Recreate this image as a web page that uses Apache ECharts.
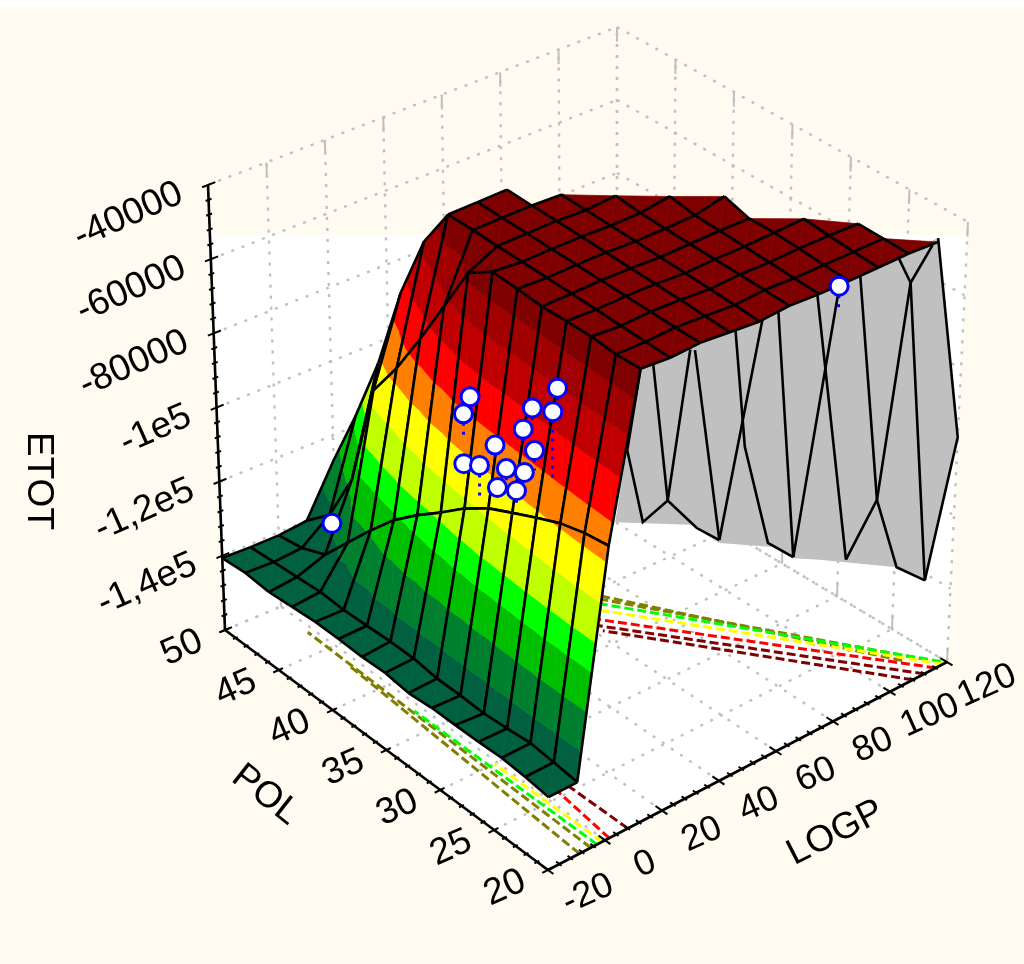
<!DOCTYPE html>
<html><head><meta charset="utf-8">
<style>html,body{margin:0;padding:0;background:#fff}#c{width:1024px;height:964px}</style>
<script src="https://cdn.jsdelivr.net/npm/echarts@6/dist/echarts.min.js"></script>
</head><body><div id="c"></div>
<script>
// ---------- data ----------
const logpGrid=[-20,-10,0,10,20,30,40,50,60,70,80,90,100,110,120];
const polGrid=[20,22.14,24.29,26.43,28.57,30.71,32.86,35,37.14,39.29,41.43,43.57,45.71,47.86,50];
const n=null;
const etotGrid=[
[-140300,-139500,-139000,-139300,-139400,-139400,-140000,-139200,-139500,-139300,-139300,-139900,-140500,-140000,-140600],
[-140300,-139500,-138900,-139500,-140000,-139750,-139750,-138900,-138900,-139200,-139500,-139200,-139750,-140300,-140800],
[-80300,-81400,-83300,-86300,-89500,-92800,-97400,-103000,-108200,-114100,-121400,-129200,-137000,-139700,-140800],
[-36340,-36900,-36600,-36900,-37400,-37100,-36900,-41700,-55200,-68500,-80900,-91400,-120000,-134000,-140000],
[-37300,-37400,-37500,-37500,-37600,-37700,-37800,-37900,-38000,-38200,-49900,-68200,-91700,-110300,-126800],
[-37200,-37400,-37500,-37600,-37700,-37800,-37900,-38000,-38100,-38200,n,n,n,n,n],
[-38300,-38200,-38100,-38100,-38100,-38100,-38100,-38100,-38200,-38200,n,n,n,n,n],
[-39300,-39100,-39000,-38900,-38800,-38700,-38700,-38700,-38700,n,n,n,n,n,n],
[-39000,-38900,-38900,-38900,-38900,-38900,-38800,-38300,n,n,n,n,n,n,n],
[-39800,-39600,-39400,-39200,-39000,-38900,-37900,n,n,n,n,n,n,n,n],
[-40200,-39900,-39500,-39200,-39400,-37400,n,n,n,n,n,n,n,n,n],
[-40500,-40200,-39800,-39200,n,n,n,n,n,n,n,n,n,n,n],
[-40700,-40500,-40400,n,n,n,n,n,n,n,n,n,n,n,n],
[-41500,n,n,n,n,n,n,n,n,n,n,n,n,n,n],
[n,n,n,n,n,n,n,n,n,n,n,n,n,n,n]
];
const bandLevels=[-132500,-122500,-112500,-105000,-95000,-84500,-74500,-63500,-53000,-44000];
const bandColors=['#00603f','#007f2f','#00bf00','#00ff00','#bfff00','#ffff00','#ff8000','#ff0000','#c00000','#a00000','#7f0000'];
const pointLogp=[5,5,5,5,5,5,5,5,5,5,5,5,5,5,80,0];
const pointPol=[25.9,33.6,34.2,28.1,26.3,28.9,31.4,27.9,34.2,32.8,30.4,28.8,31.2,29.5,20.8,45];
const pointEtot=[-52000,-70500,-76350,-62000,-59200,-69400,-78950,-73100,-89850,-87400,-83200,-80900,-90000,-87300,-43100,-127000];
const pointBaseEtot=[-58500,-75100,-83600,-65800,-77300,-74000,-83300,-78500,-89850,-96300,-86400,-83600,-90800,-90800,-50400,-129700];
// underside of the far cliff, seen below the POL=20 edge: [LOGP, ETOT]
const wallOutline=[[10,-36300],[110,-40400],[120,-98700],[110.7,-134000],[100.5,-126300],[73.2,-113300],[64,-109200],[56.7,-103200],[38.1,-94700],[27.9,-85700],[2.1,-74800]];
const wallLines=[
[[10,-36300],[5.9,-56800],[11.6,-78500],[20,-76000],[30.2,-87500],[38.1,-93900]],
[[14.2,-36400],[20,-76000]],
[[26.7,-37700],[20,-76000]],
[[28.3,-38500],[38.1,-93900]],
[[51.1,-38600],[38.1,-93900]],
[[41.8,-37700],[46.1,-71800],[55,-101400],[64,-108900]],
[[56.2,-38100],[64,-108900]],
[[77,-39500],[64,-108900]],
[[69.3,-39000],[82.5,-117000]],
[[83.7,-39200],[92.6,-104800],[100.5,-126300],[110.7,-134000]],
[[96.2,-39500],[101.2,-49100],[110.7,-134000]],
[[108.2,-41600],[101.2,-49100],[92.6,-104800],[82.5,-117000]],
[[110,-40400],[120,-98700],[110.7,-134000]]
];
// contours projected on the floor: colour, then [LOGP, POL] ends
const floorContours=[
['#808000',[-9,20],[-3,43]],['#808000',[-5,20],[-2,47]],['#00ff00',[-2.8,20],[-2.5,37]],['#ffff00',[-1,20],[-1,30]],
['#ff0000',[1.5,20],[5,27]],['#7f0000',[8,20],[8,30]],
['#808000',[117,21],[69,40]],['#808000',[112,22],[72,39.6]],['#00ff00',[119,20.3],[68,39.4]],['#ffff00',[118.6,20],[66,38.8]],
['#ff0000',[116,20],[63,38]],['#7f0000',[112,20],[61,37.5]],['#7f0000',[108,20],[62,36.4]]
];
const logpTicks=[-20,0,20,40,60,80,100,120];
const polTicks=[50,45,40,35,30,25,20];
const etotTicks=[-40000,-60000,-80000,-100000,-120000,-140000,-160000];
const etotLabels=['-40000','-60000','-80000','-1e5','-1,2e5','-1,4e5',''];
// ---------- the box seen in perspective ----------
const boxFloor={B:[548,870],C:[947,662],A:[225,630],D:[617,465]};
const boxTop={B:[551,426],C:[968,222],A:[208,185],D:[617,27]};
function project(L,P,Z){
  const u=(L+20)/140,v=(P-20)/30,w=(Z+160000)/120000;
  const mix=(q,k)=>(1-u)*(1-v)*q.B[k]+u*(1-v)*q.C[k]+(1-u)*v*q.A[k]+u*v*q.D[k];
  return [mix(boxFloor,0)*(1-w)+mix(boxTop,0)*w, mix(boxFloor,1)*(1-w)+mix(boxTop,1)*w];
}
const GRID='#c0c0c0',BLACK='#000',FONT='"Liberation Sans",Arial,sans-serif';
function segs(api,pts,style){
  return {type:'polyline',silent:true,shape:{points:pts.map(p=>api.coord(project(p[0],p[1],p[2])))},style:Object.assign({fill:null,stroke:BLACK,lineWidth:2.6},style)};
}
function clipBand(poly,lo,hi){
  const clip=(pts,keep,lim)=>{const out=[];for(let a=0;a<pts.length;a++){const p=pts[a],q=pts[(a+1)%pts.length];
    const kp=keep(p[2]),kq=keep(q[2]);if(kp)out.push(p);
    if(kp!==kq){const t=(lim-p[2])/(q[2]-p[2]);out.push([p[0]+t*(q[0]-p[0]),p[1]+t*(q[1]-p[1]),lim]);}}return out;};
  let r=poly; if(lo!==-Infinity)r=clip(r,z=>z>=lo,lo); if(r.length&&hi!==Infinity)r=clip(r,z=>z<hi,hi); return r;
}
function vtx(i,j){const z=etotGrid[i][j];return z===null?null:[logpGrid[i],polGrid[j],z];}
function renderCell(params,api){
  const i=api.value(0),j=api.value(1),a=vtx(i,j),b=vtx(i+1,j),c=vtx(i+1,j+1),d=vtx(i,j+1);
  const valid=[a,b,c,d].filter(Boolean);let tris=[];
  if(valid.length===4)tris=[[a,b,c],[a,c,d]];
  else if(valid.length===3&&i>=7)tris=[valid];
  if(!tris.length)return {type:'group',children:[]};
  const ch=[];
  tris.forEach(t=>{for(let k=0;k<bandColors.length;k++){
    const lo=k===0?-Infinity:bandLevels[k-1],hi=k===bandLevels.length?Infinity:bandLevels[k];
    const p=clipBand(t,lo,hi);if(p.length<3)continue;
    ch.push({type:'polygon',silent:true,shape:{points:p.map(q=>api.coord(project(q[0],q[1],q[2])))},style:{fill:bandColors[k],stroke:bandColors[k],lineWidth:.7}});
  }});
  [[a,b],[b,c],[c,d],[d,a]].forEach(e=>{if(e[0]&&e[1])ch.push(segs(api,e,{}));});
  return {type:'group',children:ch};
}
function renderBackdrop(params,api){
  const c=[];
  c.push({type:'polygon',silent:true,shape:{points:[[-20,50,-53500],[120,20,-43500],[120,20,-160000],[-20,20,-160000],[-20,50,-160000]].map(p=>api.coord(project(p[0],p[1],p[2])))},style:{fill:'#fff'}});
  const dot={stroke:GRID,lineWidth:2.4,lineDash:[3,8]},solid={stroke:GRID,lineWidth:2};
  etotTicks.forEach(z=>{c.push(segs(api,[[-20,50,z],[120,50,z]],dot));c.push(segs(api,[[120,50,z],[120,20,z]],dot));});
  logpTicks.forEach(l=>{c.push(segs(api,[[l,50,-160000],[l,50,-40000]],dot));c.push(segs(api,[[l,50,-40000],[l,50,-44000]],solid));c.push(segs(api,[[l,50,-160000],[l,50,-156000]],solid));c.push(segs(api,[[l,20,-160000],[l,50,-160000]],dot));});
  polTicks.forEach(p=>{c.push(segs(api,[[120,p,-160000],[120,p,-40000]],dot));c.push(segs(api,[[120,p,-40000],[120,p,-44000]],solid));c.push(segs(api,[[120,p,-160000],[120,p,-156000]],solid));c.push(segs(api,[[-20,p,-160000],[120,p,-160000]],dot));});
  floorContours.forEach(f=>c.push(segs(api,[[f[1][0],f[1][1],-160000],[f[2][0],f[2][1],-160000]],{stroke:f[0],lineWidth:3,lineDash:[9,4]})));
  return {type:'group',children:c};
}
function renderWall(params,api){
  const c=[{type:'polygon',silent:true,shape:{points:wallOutline.map(p=>api.coord(project(p[0],20,p[1])))},style:{fill:'#c0c0c0'}}];
  wallLines.forEach(l=>c.push(segs(api,l.map(p=>[p[0],20,p[1]]),{})));
  return {type:'group',children:c};
}
function renderDrops(params,api){
  const c=[];
  pointLogp.forEach((l,k)=>c.push(segs(api,[[l,pointPol[k],pointEtot[k]],[l,pointPol[k],pointBaseEtot[k]]],{stroke:'#0000ff',lineWidth:3,lineDash:[3,6]})));
  return {type:'group',children:c};
}
function txt(api,at,dx,dy,s,size,rot,align){
  const p=api.coord(at);
  return {type:'text',silent:true,x:p[0]+dx,y:p[1]+dy,rotation:rot*Math.PI/180,style:{text:s,fontSize:size,fontFamily:FONT,fill:BLACK,align:align||'center',verticalAlign:'middle'}};
}
function renderAxes(params,api){
  const c=[];
  c.push(segs(api,[[-20,50,-160000],[-20,50,-40000]],{}));
  c.push(segs(api,[[-20,50,-160000],[-20,20,-160000]],{}));
  c.push(segs(api,[[-20,20,-160000],[120,20,-160000]],{}));
  const t={lineWidth:2};
  for(let z=-160000;z<=-40000;z+=4000){const m=z%20000===0;c.push(segs(api,[[m?-22:-21,50,z],[m?-17.5:-19,50,z]],t));}
  for(let p=20;p<=50;p++){const m=p%5===0;c.push(segs(api,[[m?-22:-21,p,-160000],[m?-18.5:-19.3,p,-160000]],t));}
  for(let l=-20;l<=120;l+=4){const m=l%20===0;c.push(segs(api,[[l,m?19.5:19.8,-160000],[l,m?20.6:20.3,-160000]],t));}
  etotTicks.forEach((z,k)=>{if(etotLabels[k])c.push(txt(api,project(-20,50,z),-27,7,etotLabels[k],37,24,'right'));});
  polTicks.forEach(p=>c.push(txt(api,project(-20,p,-160000),-43,18,String(p),37,24)));
  logpTicks.forEach(l=>c.push(txt(api,project(l,20,-160000),40,24,String(l),36,24)));
  c.push(txt(api,project(-20,35,-160000),-121,45,'POL',37,-38));
  c.push(txt(api,project(50,20,-160000),88,67,'LOGP',37,27));
  c.push(txt(api,[38,481],0,0,'ETOT',37,-90));
  return {type:'group',children:c};
}
const cells=[];
for(let i=logpGrid.length-2;i>=0;i--)for(let j=polGrid.length-2;j>=0;j--)cells.push([i,j]);
const single=[[0,0]];
const chart=echarts.init(document.getElementById('c'),null,{renderer:'canvas'});
chart.setOption({
  animation:false,backgroundColor:'#ffffff',tooltip:{show:false},
  graphic:[{type:'rect',z:-1,silent:true,shape:{x:0,y:8,width:1024,height:956},style:{fill:'#fffbf0'}}],
  grid:{left:0,right:0,top:0,bottom:0},
  xAxis:{type:'value',min:0,max:1024,show:false},
  yAxis:{type:'value',min:0,max:964,inverse:true,show:false},
  series:[
    {type:'custom',name:'box',data:single,renderItem:renderBackdrop,clip:false,z:2,silent:true},
    {type:'custom',name:'cliff',data:single,renderItem:renderWall,clip:false,z:3,silent:true},
    {type:'custom',name:'ETOT surface',data:cells,renderItem:renderCell,clip:false,z:4,silent:true,encode:{x:0,y:1}},
    {type:'custom',name:'drops',data:single,renderItem:renderDrops,clip:false,z:5,silent:true},
    {type:'scatter',name:'observations',z:6,silent:true,symbolSize:18,itemStyle:{color:'#fff',borderColor:'#0000ff',borderWidth:3,opacity:1},
      data:pointLogp.map((l,k)=>project(l,pointPol[k],pointEtot[k]))},
    {type:'custom',name:'axes',data:single,renderItem:renderAxes,clip:false,z:7,silent:true}
  ]
});
</script></body></html>
